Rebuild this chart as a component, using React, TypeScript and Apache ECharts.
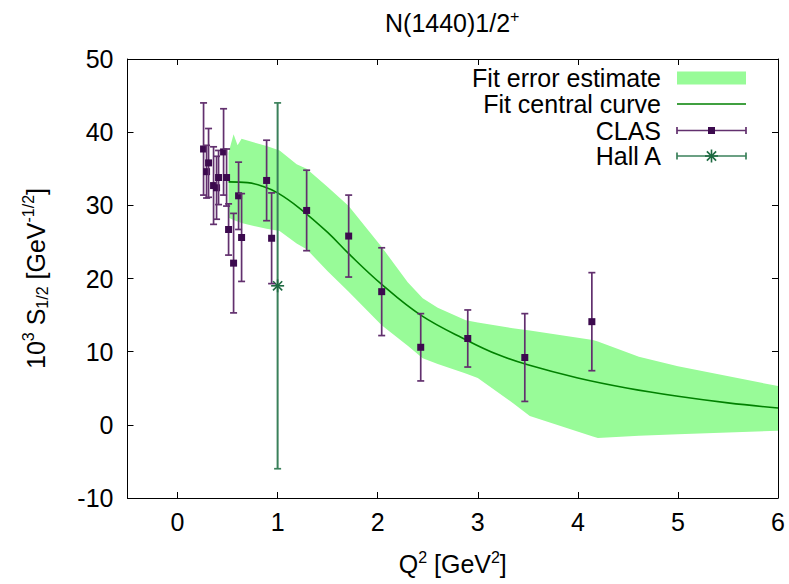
import React, { useEffect, useRef } from "react";
import * as echarts from "echarts";

// ---- data ----
const clasQ2 = [0.26, 0.29, 0.31, 0.36, 0.39, 0.41, 0.46, 0.49, 0.51, 0.56, 0.61, 0.64, 0.89, 0.94, 1.29, 1.71, 2.04, 2.43, 2.9, 3.47, 4.14];
const clasS12 = [37.7, 34.6, 35.8, 32.7, 32.4, 33.8, 37.3, 33.8, 26.7, 22.1, 31.3, 25.6, 33.4, 25.5, 29.3, 25.8, 18.2, 10.6, 11.8, 9.2, 14.1];
const clasErr = [6.3, 3.6, 4.7, 5.3, 4.3, 3.7, 5.9, 3.9, 3.5, 6.8, 4.6, 6.0, 5.5, 6.2, 5.5, 5.6, 6.0, 4.6, 3.9, 6.0, 6.7];

const hallAQ2 = [1.0];
const hallAS12 = [19.0];
const hallAErr = [25.0];

const curveQ2 = [0.51, 0.7, 0.85, 1.0, 1.22, 1.5, 1.71, 2.04, 2.43, 2.9, 3.2, 3.5, 4.0, 4.5, 5.0, 5.5, 6.0];
const curveS12 = [33.2, 33.1, 32.6, 31.7, 29.6, 26.3, 23.4, 19.2, 15.0, 11.5, 9.6, 8.2, 6.4, 5.0, 3.9, 3.0, 2.3];

const bandQ2 = [0.51, 0.56, 0.6, 0.64, 0.69, 0.89, 1.02, 1.19, 1.29, 1.5, 1.71, 2.04, 2.3, 2.45, 2.6, 2.88, 3.0, 3.35, 3.52, 4.15, 4.2, 4.61, 5.0, 6.0];
const bandUpper = [37.2, 39.7, 38.2, 39.1, 38.9, 38.1, 37.5, 35.6, 35.0, 32.5, 29.9, 24.3, 19.5, 17.3, 16.0, 14.3, 14.0, 13.2, 12.9, 11.6, 11.4, 9.3, 8.0, 5.3];
const bandLower = [28.3, 28.0, 27.8, 27.6, 27.4, 26.8, 26.5, 24.8, 24.0, 21.0, 18.2, 13.6, 10.8, 9.1, 8.3, 7.0, 6.4, 3.0, 1.2, -1.6, -1.8, -1.5, -1.3, -0.8];

const seriesNames = ["Fit error estimate", "Fit central curve", "CLAS", "Hall A"];

const FONT = "Liberation Sans";
const FS = 25;
const BAND_COLOR = "#98fb98";
const CURVE_COLOR = "#008000";
const CLAS_BAR = "#62306e";
const CLAS_PT = "#3c0a4e";
const HALLA_BAR = "#3a805a";
const HALLA_PT = "#1e6a42";

const richSupSub = {
  sup: { fontSize: 16, fontFamily: FONT, lineHeight: 14, verticalAlign: "top", color: "#000" },
  sub: { fontSize: 16, fontFamily: FONT, lineHeight: 14, verticalAlign: "bottom", color: "#000" },
};

export default function App() {
  const ref = useRef<HTMLDivElement>(null);

  useEffect(() => {
    if (!ref.current) return;
    const chart = echarts.init(ref.current, null, { renderer: "svg" });

    const errorBarItem = (barColor: string, ptColor: string, kind: "square" | "star") => (params: any, api: any) => {
      const x = api.value(0);
      const y = api.value(1);
      const e = api.value(2);
      const top = api.coord([x, y + e]);
      const bot = api.coord([x, y - e]);
      const c = api.coord([x, y]);
      const cap = 3.5;
      const children: any[] = [
        { type: "line", shape: { x1: c[0], y1: top[1], x2: c[0], y2: bot[1] }, style: { stroke: barColor, lineWidth: kind === "star" ? 2 : 1.7 } },
        { type: "line", shape: { x1: c[0] - cap, y1: top[1], x2: c[0] + cap, y2: top[1] }, style: { stroke: barColor, lineWidth: 1.7 } },
        { type: "line", shape: { x1: c[0] - cap, y1: bot[1], x2: c[0] + cap, y2: bot[1] }, style: { stroke: barColor, lineWidth: 1.7 } },
      ];
      if (kind === "square") {
        children.push({ type: "rect", shape: { x: c[0] - 3.5, y: c[1] - 3.5, width: 7, height: 7 }, style: { fill: ptColor } });
      } else {
        const r = 6.5;
        const d = 4.6;
        const st = { stroke: ptColor, lineWidth: 1.6 };
        children.push({ type: "line", shape: { x1: c[0] - r, y1: c[1], x2: c[0] + r, y2: c[1] }, style: st });
        children.push({ type: "line", shape: { x1: c[0], y1: c[1] - r, x2: c[0], y2: c[1] + r }, style: st });
        children.push({ type: "line", shape: { x1: c[0] - d, y1: c[1] - d, x2: c[0] + d, y2: c[1] + d }, style: st });
        children.push({ type: "line", shape: { x1: c[0] - d, y1: c[1] + d, x2: c[0] + d, y2: c[1] - d }, style: st });
      }
      return { type: "group", children };
    };

    const axisLineStyle = { color: "#000", width: 1 };
    const tickStyle = { color: "#000", width: 1 };

    const legendY = [78, 104, 130.5, 156];
    const legX0 = 677;
    const legX1 = 746;
    const legMid = (legX0 + legX1) / 2;
    const legendText = (i: number) => ({
      type: "text",
      x: 661,
      y: legendY[i],
      style: { text: seriesNames[i], fill: "#000", font: `${FS}px "${FONT}"`, align: "right", verticalAlign: "middle" },
    });

    const option: any = {
      animation: false,
      backgroundColor: "#fff",
      title: {
        text: "N(1440)1/2{sup|+}",
        left: 380,
        top: 3,
        textStyle: {
          fontSize: FS,
          fontWeight: "normal",
          fontFamily: FONT,
          color: "#000",
          lineHeight: 30,
          rich: richSupSub,
        },
      },
      grid: { left: 127.5, right: 11, top: 59, bottom: 84, containLabel: false },
      xAxis: [
        {
          type: "value",
          min: -0.5,
          max: 6,
          position: "bottom",
          axisLine: { show: true, onZero: false, lineStyle: axisLineStyle },
          axisTick: { show: true, inside: true, length: 6, lineStyle: tickStyle },
          splitLine: { show: false },
          axisLabel: {
            fontSize: FS,
            fontFamily: FONT,
            color: "#000",
            margin: 11,
            showMinLabel: true,
            showMaxLabel: true,
            formatter: (v: number) => (Number.isInteger(v) ? String(v) : ""),
          },
          name: "Q{sup|2} [GeV{sup|2}]",
          nameLocation: "middle",
          nameGap: 51,
          nameTextStyle: { fontSize: FS, fontFamily: FONT, color: "#000", lineHeight: 30, rich: richSupSub },
        },
        {
          type: "value",
          min: -0.5,
          max: 6,
          position: "top",
          axisLine: { show: true, onZero: false, lineStyle: axisLineStyle },
          axisTick: { show: true, inside: true, length: 6, lineStyle: tickStyle },
          splitLine: { show: false },
          axisLabel: { show: false },
        },
      ],
      yAxis: [
        {
          type: "value",
          min: -10,
          max: 50,
          interval: 10,
          position: "left",
          axisLine: { show: true, onZero: false, lineStyle: axisLineStyle },
          axisTick: { show: true, inside: true, length: 6, lineStyle: tickStyle },
          splitLine: { show: false },
          axisLabel: { fontSize: FS, fontFamily: FONT, color: "#000", margin: 14 },
          name: "10{sup|3} S{sub|1/2} [GeV{sup|-1/2}]",
          nameLocation: "middle",
          nameRotate: 90,
          nameGap: 77,
          nameTextStyle: { fontSize: FS, fontFamily: FONT, color: "#000", lineHeight: 30, rich: richSupSub },
        },
        {
          type: "value",
          min: -10,
          max: 50,
          interval: 10,
          position: "right",
          axisLine: { show: true, onZero: false, lineStyle: axisLineStyle },
          axisTick: { show: true, inside: true, length: 6, lineStyle: tickStyle },
          splitLine: { show: false },
          axisLabel: { show: false },
        },
      ],
      series: [
        {
          name: seriesNames[0],
          type: "custom",
          xAxisIndex: 0,
          yAxisIndex: 0,
          encode: { x: 0, y: [1, 2] },
          data: bandQ2.map((q, i) => [q, bandLower[i], bandUpper[i]]),
          itemStyle: { color: BAND_COLOR },
          z: 1,
          renderItem: (params: any, api: any) => {
            if (params.dataIndex !== 0) return null;
            const up = bandQ2.map((q, i) => api.coord([q, bandUpper[i]]));
            const lo = bandQ2.map((q, i) => api.coord([q, bandLower[i]])).reverse();
            return { type: "polygon", shape: { points: up.concat(lo) }, style: { fill: BAND_COLOR } };
          },
        },
        {
          name: seriesNames[1],
          type: "line",
          xAxisIndex: 0,
          yAxisIndex: 0,
          data: curveQ2.map((q, i) => [q, curveS12[i]]),
          showSymbol: false,
          smooth: 0.4,
          lineStyle: { color: CURVE_COLOR, width: 1.6 },
          itemStyle: { color: CURVE_COLOR },
          z: 2,
        },
        {
          name: seriesNames[3],
          type: "custom",
          xAxisIndex: 0,
          yAxisIndex: 0,
          encode: { x: 0, y: 1 },
          data: hallAQ2.map((q, i) => [q, hallAS12[i], hallAErr[i]]),
          itemStyle: { color: HALLA_PT },
          z: 3,
          renderItem: errorBarItem(HALLA_BAR, HALLA_PT, "star"),
        },
        {
          name: seriesNames[2],
          type: "custom",
          xAxisIndex: 0,
          yAxisIndex: 0,
          encode: { x: 0, y: 1 },
          data: clasQ2.map((q, i) => [q, clasS12[i], clasErr[i]]),
          itemStyle: { color: CLAS_PT },
          z: 4,
          renderItem: errorBarItem(CLAS_BAR, CLAS_PT, "square"),
        },
      ],
      graphic: [
        legendText(0),
        { type: "rect", shape: { x: legX0, y: legendY[0] - 6.5, width: legX1 - legX0, height: 13 }, style: { fill: BAND_COLOR } },
        legendText(1),
        { type: "line", shape: { x1: legX0, y1: legendY[1], x2: legX1, y2: legendY[1] }, style: { stroke: CURVE_COLOR, lineWidth: 1.6 } },
        legendText(2),
        { type: "line", shape: { x1: legX0, y1: legendY[2], x2: legX1, y2: legendY[2] }, style: { stroke: CLAS_BAR, lineWidth: 1.7 } },
        { type: "line", shape: { x1: legX0, y1: legendY[2] - 3.5, x2: legX0, y2: legendY[2] + 3.5 }, style: { stroke: CLAS_BAR, lineWidth: 1.7 } },
        { type: "line", shape: { x1: legX1, y1: legendY[2] - 3.5, x2: legX1, y2: legendY[2] + 3.5 }, style: { stroke: CLAS_BAR, lineWidth: 1.7 } },
        { type: "rect", shape: { x: legMid - 3.5, y: legendY[2] - 3.5, width: 7, height: 7 }, style: { fill: CLAS_PT } },
        legendText(3),
        { type: "line", shape: { x1: legX0, y1: legendY[3], x2: legX1, y2: legendY[3] }, style: { stroke: HALLA_BAR, lineWidth: 1.7 } },
        { type: "line", shape: { x1: legX0, y1: legendY[3] - 3.5, x2: legX0, y2: legendY[3] + 3.5 }, style: { stroke: HALLA_BAR, lineWidth: 1.7 } },
        { type: "line", shape: { x1: legX1, y1: legendY[3] - 3.5, x2: legX1, y2: legendY[3] + 3.5 }, style: { stroke: HALLA_BAR, lineWidth: 1.7 } },
        { type: "line", shape: { x1: legMid - 6.5, y1: legendY[3], x2: legMid + 6.5, y2: legendY[3] }, style: { stroke: HALLA_PT, lineWidth: 1.6 } },
        { type: "line", shape: { x1: legMid, y1: legendY[3] - 6.5, x2: legMid, y2: legendY[3] + 6.5 }, style: { stroke: HALLA_PT, lineWidth: 1.6 } },
        { type: "line", shape: { x1: legMid - 4.6, y1: legendY[3] - 4.6, x2: legMid + 4.6, y2: legendY[3] + 4.6 }, style: { stroke: HALLA_PT, lineWidth: 1.6 } },
        { type: "line", shape: { x1: legMid - 4.6, y1: legendY[3] + 4.6, x2: legMid + 4.6, y2: legendY[3] - 4.6 }, style: { stroke: HALLA_PT, lineWidth: 1.6 } },
      ],
    };

    chart.setOption(option);
    return () => chart.dispose();
  }, []);

  return <div ref={ref} style={{ width: 789, height: 584, position: "absolute", left: 0, top: 0, background: "#fff" }} />;
}
